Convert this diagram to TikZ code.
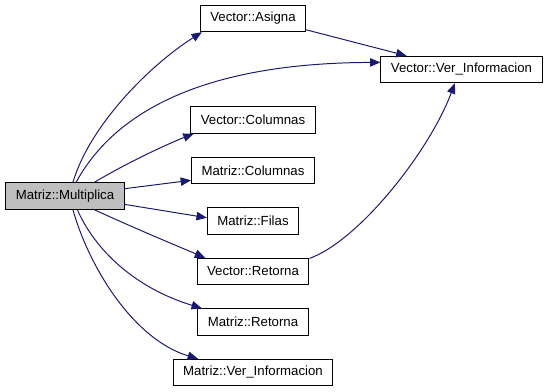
\documentclass[tikz,border=0pt]{standalone}
\usepackage{fontspec}
\setmainfont{Liberation Sans}
\usepackage{tikz}
\usetikzlibrary{arrows.meta}
\definecolor{edgeblue}{HTML}{191970}
\tikzset{
    func/.style = {rectangle, draw=black, fill=white, line width=0.7pt,
        inner xsep=0.25cm, inner ysep=0pt, minimum height=0.66cm,
        font=\fontsize{9.4pt}{11pt}\selectfont},
    current/.style = {func, fill=black!25},
    call/.style = {draw=edgeblue, line width=0.7pt,
        -{Triangle[length=0.26cm,width=0.21cm]}}}

\begin{document}
\begin{tikzpicture}[x=0.025cm, y=-0.025cm]
    \useasboundingbox (0,0) rectangle (547,392);
    \node[current] (mult) at (65,196) {Matriz::Multiplica};
    \node[func] (vasig) at (253,18.5) {Vector::Asigna};
    \node[func] (vver)  at (461.5,69.5) {Vector::Ver\_Informacion};
    \node[func] (vcol)  at (253,120) {Vector::Columnas};
    \node[func] (mcol)  at (253,170.5) {Matriz::Columnas};
    \node[func] (mfil)  at (253,221) {Matriz::Filas};
    \node[func] (vret)  at (253,271.5) {Vector::Retorna};
    \node[func] (mret)  at (253,322) {Matriz::Retorna};
    \node[func] (mver)  at (253,372.5) {Matriz::Ver\_Informacion};
    % calls made by Multiplica
    \draw[call] (mult.60) .. controls (90,125) and (150,65) .. (vasig.-165);
    \draw[call] (mult.51) .. controls (110,120) and (190,63) .. (vver.175);
    \draw[call] (mult.25) .. controls (125,164) and (165,145) .. (vcol.193);
    \draw[call] (mult.7) -- (mcol.189);
    \draw[call] (mult.-8) -- (mfil.176);
    \draw[call] (mult.-25) .. controls (125,224) and (170,243) .. (vret.164);
    \draw[call] (mult.-48) .. controls (95,250) and (135,288) .. (mret.165);
    \draw[call] (mult.-60) .. controls (90,270) and (135,340) .. (mver.166);
    % nested calls
    \draw[call] (vasig.-12) -- (vver.166);
    \draw[call] (vret.13) .. controls (360,240) and (430,150) .. (vver.-116);
\end{tikzpicture}
\end{document}
